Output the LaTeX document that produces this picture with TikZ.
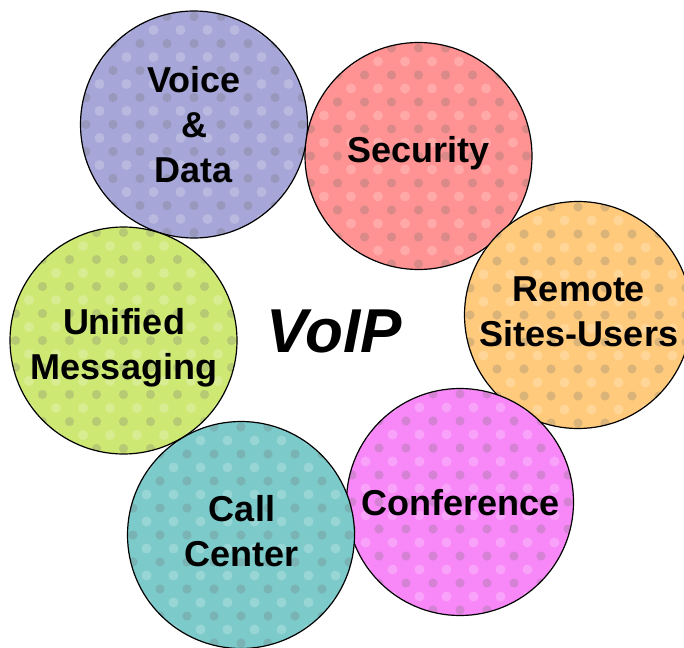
\documentclass[tikz,border=0pt]{standalone}
\usepackage{fontspec}
\setmainfont{Liberation Sans}
\definecolor{vdblue}{RGB}{166,166,216}
\definecolor{secred}{RGB}{255,146,146}
\definecolor{remorange}{RGB}{255,202,124}
\definecolor{confmag}{RGB}{248,136,248}
\definecolor{callteal}{RGB}{124,202,202}
\definecolor{unigreen}{RGB}{206,232,116}
\tikzset{
  blob/.style={fill=black!55, fill opacity=0.26},
  glint/.style={fill=white, fill opacity=0.22},
  bubble/.style={circle, draw=black, line width=1.2pt, fill=#1,
    inner sep=0pt, minimum size=227pt,
    path picture={
      \foreach \i in {-5,...,5}
        \foreach \j in {-5,...,5}{
          \fill[blob] ([shift={(\i*27pt,\j*27pt)}]path picture bounding box.center) circle (4.6pt);
          \fill[glint] ([shift={(\i*27pt+13.5pt,\j*27pt+13.5pt)}]path picture bounding box.center) circle (5pt);
        }
    }},
  tag/.style={font=\bfseries\fontsize{36}{45}\selectfont, align=center, inner sep=0pt},
  title/.style={font=\bfseries\itshape\fontsize{62}{70}\selectfont, inner sep=0pt}
}
\begin{document}
\begin{tikzpicture}[x=1pt,y=-1pt]
\useasboundingbox (0,0) rectangle (684,647);
% the six topic bubbles
\node[bubble=vdblue]    (voice)  at (194,124.5) {};
\node[bubble=secred]    (sec)    at (418.5,156) {};
\node[bubble=remorange] (remote) at (578,315) {};
\node[bubble=confmag]   (conf)   at (460,502) {};
\node[bubble=callteal]  (call)   at (241,535) {};
\node[bubble=unigreen]  (unif)   at (123.5,340.5) {};
% their labels
\node[tag] (voicetxt)  at (194,124.6) {Voice\\\&\\Data};
\node[tag] (sectxt)    at (418.5,152.8) {Security};
\node[tag] (remotetxt) at (579,311.5) {Remote\\Sites-Users};
\node[tag] (conftxt)   at (460.5,503) {Conference};
\node[tag] (calltxt)   at (242,531.5) {Call\\Center};
\node[tag] (uniftxt)   at (124,347.5) {Unified\\Messaging};
% centre title
\node[title] (voip) at (334,331) {VoIP};
\end{tikzpicture}
\end{document}
